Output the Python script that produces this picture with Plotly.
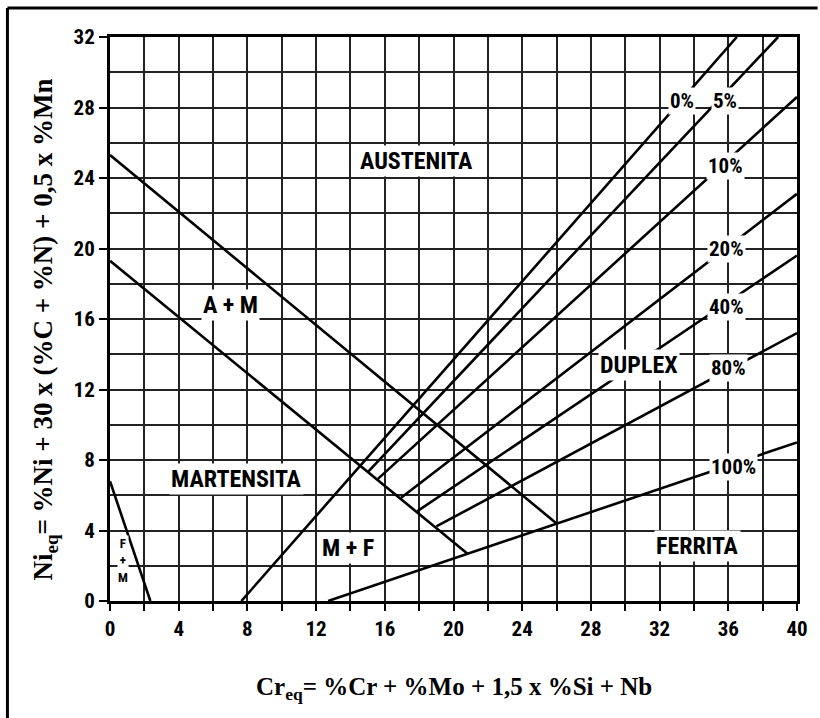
import plotly.graph_objects as go

# Schaeffler diagram: Cr-equivalent (x) vs Ni-equivalent (y)
x_ticks = [0, 4, 8, 12, 16, 20, 24, 28, 32, 36, 40]
y_ticks = [0, 4, 8, 12, 16, 20, 24, 28, 32]

# Phase boundary lines (Cr_eq, Ni_eq)
fm_x, fm_y = [0, 2.35], [6.8, 0]                  # F+M / martensite
am_upper_x, am_upper_y = [0, 26.0], [25.3, 4.4]    # austenite / A+M
am_lower_x, am_lower_y = [0, 20.8], [19.3, 2.7]    # A+M / martensite
ferrite_0_x, ferrite_0_y = [7.65, 36.5], [0, 32]   # 0 % ferrite
ferrite_5_x, ferrite_5_y = [15.05, 38.9], [7.36, 32]
ferrite_10_x, ferrite_10_y = [15.6, 40], [6.93, 28.6]
ferrite_20_x, ferrite_20_y = [16.95, 40], [5.86, 23.1]
ferrite_40_x, ferrite_40_y = [17.9, 40], [5.1, 19.6]
ferrite_80_x, ferrite_80_y = [19.0, 40], [4.23, 15.2]
ferrite_100_x, ferrite_100_y = [12.7, 40], [0, 9.0]

# Ferrite-percentage labels: text, x, y
pct_text = ["0%", "5%", "10%", "20%", "40%", "80%", "100%"]
pct_x = [33.3, 35.8, 35.85, 35.9, 35.9, 36.0, 36.3]
pct_y = [28.35, 28.35, 24.7, 19.95, 16.7, 13.2, 7.6]

# Phase region names: text, x, y
region_text = ["AUSTENITA", "A + M", "MARTENSITA", "M + F", "DUPLEX", "FERRITA"]
region_x = [17.85, 7.0, 7.34, 13.86, 30.8, 34.2]
region_y = [24.97, 16.8, 6.9, 3.0, 13.4, 3.1]

NARROW = "Liberation Sans Narrow, Arial Narrow, Roboto Condensed, Liberation Sans, sans-serif"
SERIF = "Liberation Serif, Times New Roman, DejaVu Serif, serif"

fig = go.Figure()

lines = [
    (fm_x, fm_y), (am_upper_x, am_upper_y), (am_lower_x, am_lower_y),
    (ferrite_0_x, ferrite_0_y), (ferrite_5_x, ferrite_5_y),
    (ferrite_10_x, ferrite_10_y), (ferrite_20_x, ferrite_20_y),
    (ferrite_40_x, ferrite_40_y), (ferrite_80_x, ferrite_80_y),
    (ferrite_100_x, ferrite_100_y),
]
for lx, ly in lines:
    fig.add_trace(go.Scatter(
        x=lx, y=ly, mode="lines",
        line=dict(color="black", width=2.6),
        showlegend=False, hoverinfo="skip",
    ))

annotations = []
for t, ax, ay in zip(pct_text, pct_x, pct_y):
    annotations.append(dict(
        x=ax, y=ay, xref="x", yref="y", text=t, showarrow=False,
        font=dict(family=NARROW, size=21, color="black", weight="bold"),
        bgcolor="white", borderpad=1,
    ))
for t, ax, ay in zip(region_text, region_x, region_y):
    annotations.append(dict(
        x=ax, y=ay, xref="x", yref="y", text=t, showarrow=False,
        font=dict(family=NARROW, size=24, color="black", weight="bold"),
        bgcolor="white", borderpad=1,
    ))
annotations.append(dict(
    x=0.77, y=2.3, xref="x", yref="y", text="F<br>+<br>M", showarrow=False,
    font=dict(family=NARROW, size=13, color="black", weight="bold"),
    bgcolor="white", borderpad=0,
))

# Axis titles
annotations.append(dict(
    x=-0.0942, y=0.482, xref="paper", yref="paper", textangle=-90,
    text="Ni<sub>eq</sub>= %Ni + 30 x (%C + %N) + 0,5 x %Mn",
    showarrow=False, xanchor="center", yanchor="middle",
    font=dict(family=SERIF, size=27, color="black", weight="bold"),
))
annotations.append(dict(
    x=0.501, y=-0.155, xref="paper", yref="paper",
    text="Cr<sub>eq</sub>= %Cr + %Mo + 1,5 x %Si + Nb",
    showarrow=False, xanchor="center", yanchor="middle",
    font=dict(family=SERIF, size=25, color="black", weight="bold"),
))

# Page frame (left and top edges)
shapes = [
    dict(type="line", xref="paper", yref="paper", x0=-0.1493, x1=-0.1493,
         y0=1.0514, y1=-0.21, line=dict(color="black", width=3)),
    dict(type="line", xref="paper", yref="paper", x0=-0.1493, x1=1.03,
         y0=1.0514, y1=1.0514, line=dict(color="black", width=3)),
]

fig.update_layout(
    width=820, height=718,
    margin=dict(l=110, r=20, t=37, b=117),
    paper_bgcolor="white", plot_bgcolor="white",
    annotations=annotations, shapes=shapes,
    xaxis=dict(
        range=[0, 40], tickvals=x_ticks, ticktext=[str(v) for v in x_ticks],
        showgrid=True, gridcolor="#222", gridwidth=1.6,
        zeroline=False, showline=True, linecolor="black", linewidth=3, mirror=True,
        ticks="outside", ticklen=7, tickwidth=2, tickcolor="black",
        tickfont=dict(family=NARROW, size=21, color="black", weight="bold"),
        minor=dict(dtick=2, tick0=0, showgrid=True, gridcolor="#222", gridwidth=1.6,
                   ticks="outside", ticklen=7, tickwidth=2, tickcolor="black"),
        fixedrange=True,
    ),
    yaxis=dict(
        range=[0, 32], tickvals=y_ticks, ticktext=[str(v) for v in y_ticks],
        showgrid=True, gridcolor="#222", gridwidth=2.4,
        zeroline=False, showline=True, linecolor="black", linewidth=3, mirror=True,
        ticks="outside", ticklen=8, tickwidth=2, tickcolor="black",
        tickfont=dict(family=NARROW, size=21, color="black", weight="bold"),
        minor=dict(dtick=2, tick0=0, showgrid=True, gridcolor="#222", gridwidth=2.4,
                   ticks=""),
        fixedrange=True,
    ),
)

fig.write_html("out.html")
